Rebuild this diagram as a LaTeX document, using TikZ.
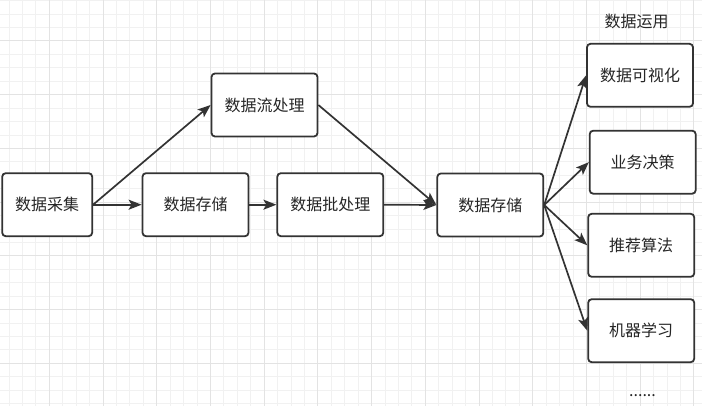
\documentclass[tikz,border=0pt]{standalone}
\usepackage{fontspec}
\setmainfont{Noto Sans CJK SC}
\usetikzlibrary{arrows.meta}
\usepackage{xcolor}
\definecolor{edgegray}{HTML}{333333}
\definecolor{gridminor}{HTML}{F1F1F1}
\definecolor{gridmajor}{HTML}{E3E3E3}

\begin{document}
\begin{tikzpicture}[
    x=1pt, y=-1pt,
    box/.style={draw=edgegray, line width=1.8pt, rounded corners=3.5pt, fill=white, minimum width=106pt, minimum height=63pt, inner sep=0pt, font=\fontsize{16}{19}\selectfont, text=black!85},
    lbl/.style={font=\fontsize{16}{19}\selectfont, text=black!85, inner sep=0pt},
    arr/.style={draw=edgegray, line width=1.7pt, -{Stealth[length=13pt,width=10pt,inset=3pt]}}
]
\useasboundingbox (0,0) rectangle (702,406);
\fill[white] (0,0) rectangle (702,406);
% background grid
\foreach \i in {-3,...,48} \draw[gridminor, line width=1pt] ({49.3+13.43*\i},0) -- ({49.3+13.43*\i},406);
\foreach \i in {-3,...,27} \draw[gridminor, line width=1pt] (0,{41+13.43*\i}) -- (702,{41+13.43*\i});
\foreach \j in {0,...,12} \draw[gridmajor, line width=1pt] ({49.3+53.72*\j},0) -- ({49.3+53.72*\j},406);
\foreach \j in {0,...,6} \draw[gridmajor, line width=1pt] (0,{41+53.72*\j}) -- (702,{41+53.72*\j});

\node[box, minimum width=90pt] (collect) at (47.2,204.7) {数据采集};
\node[box] (store1) at (195.5,204.7) {数据存储};
\node[box] (batch) at (330.3,204.7) {数据批处理};
\node[box] (stream) at (264.5,105) {数据流处理};
\node[box] (store2) at (490.3,205) {数据存储};

\node[lbl] (usage) at (636.7,21.7) {数据运用};
\node[box] (visual) at (640,75.3) {数据可视化};
\node[box] (decide) at (642.7,162.2) {业务决策};
\node[box] (recommend) at (641.2,245.3) {推荐算法};
\node[box] (learn) at (641.2,330.7) {机器学习};
\node[lbl, anchor=base] (more) at (642.5,396) {......};

\draw[arr] (collect.east) -- (stream.west);
\draw[arr] (collect.east) -- (store1.west);
\draw[arr] (store1.east) -- (batch.west);
\draw[arr] (batch.east) -- (store2.west);
\draw[arr] (stream.east) -- (store2.west);
\draw[arr] (store2.east) -- (visual.west);
\draw[arr] (store2.east) -- (decide.west);
\draw[arr] (store2.east) -- (recommend.west);
\draw[arr] (store2.east) -- (learn.west);
\end{tikzpicture}
\end{document}
